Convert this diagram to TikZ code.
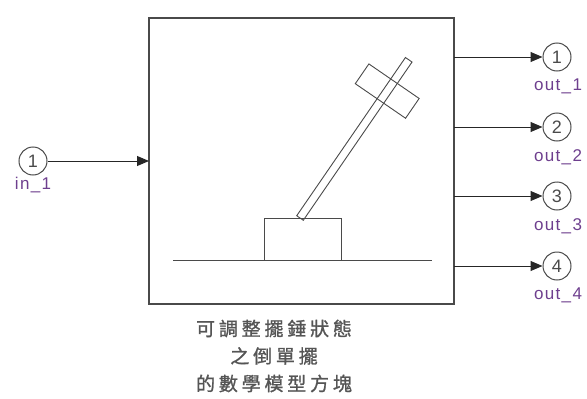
\documentclass[tikz,border=0pt]{standalone}
\usepackage{fontspec}
\setmainfont{Liberation Sans}
\newfontfamily\cjk[LetterSpace=20,FakeBold=1.2]{Noto Sans CJK TC}
\usetikzlibrary{arrows.meta}
\definecolor{edge}{HTML}{4A4A4A}
\definecolor{captxt}{HTML}{555555}
\definecolor{portlbl}{HTML}{6E3F8E}
\tikzset{
  portcirc/.style={circle, draw=edge, line width=1pt, minimum size=28pt, inner sep=0pt,
    font=\fontsize{18}{18}\selectfont, text=edge},
  portname/.style={text=portlbl, font=\fontsize{17}{17}\selectfont\addfontfeature{LetterSpace=8}, inner sep=0pt},
  sig/.style={line width=1pt, draw=black!85, -{Triangle[length=12pt,width=10pt]}},
  thin/.style={line width=0.9pt, draw=edge},
}
\begin{document}
\begin{tikzpicture}[x=1pt, y=-1pt]
  \useasboundingbox (0,0) rectangle (587,399);

  % subsystem block
  \draw[draw=edge, line width=2pt] (149,18) rectangle (454,304);
  \coordinate (blk) at (149,161);

  % inverted pendulum icon: ground, cart, rod and weight
  \draw[thin] (173,260) -- (432,260);
  \draw[thin] (264,260) -- (264,218) -- (341,218) -- (341,260);
  \begin{scope}[shift={(300,218)}, rotate=55.5]
    \draw[thin] (0,-4) rectangle (192,4);
    \draw[thin] (142,-30.5) rectangle (166,30.5);
  \end{scope}

  % input port
  \node[portcirc] (in1) at (33,161) {1};
  \node[portname, anchor=north] (in1l) at (33,177) {in\_1};
  \draw[sig] (in1) -- (blk);

  % output ports
  \foreach \i/\y in {1/57, 2/127, 3/196, 4/266}{
    \coordinate (o\i) at (454,\y);
    \node[portcirc] (out\i) at (557,\y) {\i};
    \node[portname, anchor=north] (out\i l) at (558,\y+22) {out\_\i};
    \draw[sig] (o\i) -- (out\i);
  }

  % block caption
  \node[text=captxt, font=\fontsize{19}{27.5}\selectfont\cjk, align=center, inner sep=0pt]
    (cap) at (274,356) {可調整擺錘狀態\\之倒單擺\\的數學模型方塊};
\end{tikzpicture}
\end{document}
